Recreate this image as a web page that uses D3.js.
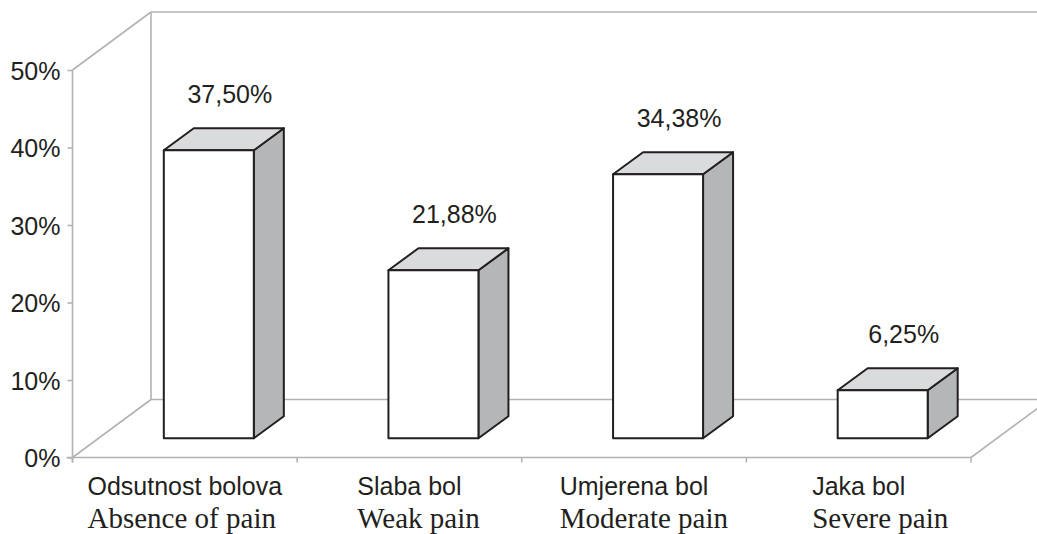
<!DOCTYPE html>
<html>
<head>
<meta charset="utf-8">
<script src="https://cdn.jsdelivr.net/npm/d3@7"></script>
<style>
  body { margin: 0; background: #fff; }
</style>
</head>
<body>
<div id="chart"></div>
<script>
const categories = ["Odsutnost bolova", "Slaba bol", "Umjerena bol", "Jaka bol"];
const categoriesEn = ["Absence of pain", "Weak pain", "Moderate pain", "Severe pain"];
const values = [0.375, 0.2188, 0.3438, 0.0625];
const valueLabels = ["37,50%", "21,88%", "34,38%", "6,25%"];
const yTicks = [0, 0.1, 0.2, 0.3, 0.4, 0.5];

const width = 1037, height = 534;
const ink = "#231f20", wallGrey = "#b3b3b3";

const svg = d3.select("#chart").append("svg")
  .attr("width", width)
  .attr("height", height);

// axis / floor geometry
const x0 = 72.5, x1 = 971;
const y0 = 457.5, y1 = 70;
const depthX = 78.5, depthY = -58;

const yScale = d3.scaleLinear().domain([0, 0.5]).range([y0, y1]);
// bars stand a third of the way into the floor, slightly flatter projection
const barScale = d3.scaleLinear().domain([0, 0.5]).range([438.3, 438.3 - 384]);
const xScale = d3.scaleBand().domain(categories).range([x0, x1]);

// walls
const walls = svg.append("g")
  .attr("fill", "none")
  .attr("stroke", wallGrey)
  .attr("stroke-width", 1.6);

walls.append("line").attr("x1", x0).attr("y1", y1).attr("x2", x0 + depthX).attr("y2", y1 + depthY);
walls.append("line").attr("x1", x0 + depthX).attr("y1", y1 + depthY).attr("x2", width).attr("y2", y1 + depthY);
walls.append("line").attr("x1", x0 + depthX).attr("y1", y1 + depthY).attr("x2", x0 + depthX).attr("y2", y0 + depthY);
walls.append("line").attr("x1", x0).attr("y1", y0).attr("x2", x0 + depthX).attr("y2", y0 + depthY);
walls.append("line").attr("x1", x0 + depthX).attr("y1", y0 + depthY).attr("x2", width).attr("y2", y0 + depthY);
walls.append("line").attr("x1", x1).attr("y1", y0).attr("x2", x1 + depthX).attr("y2", y0 + depthY);

// y axis
const yAxis = svg.append("g")
  .attr("transform", `translate(${x0},0)`)
  .call(d3.axisLeft(yScale).tickValues(yTicks).tickFormat(d => Math.round(d * 100) + "%").tickSize(5).tickPadding(7));
yAxis.select(".domain").attr("stroke", wallGrey).attr("stroke-width", 1.6)
  .attr("d", `M0,${y1}V${y0 + 5}`);
yAxis.selectAll(".tick line").attr("stroke", wallGrey).attr("stroke-width", 1.6);
yAxis.selectAll(".tick text")
  .attr("fill", ink)
  .attr("font-family", "Liberation Sans, Arial, sans-serif")
  .attr("font-size", 25)
  .attr("dy", "0.36em");

// x axis (floor front edge)
const xAxis = svg.append("g")
  .attr("transform", `translate(0,${y0})`);
xAxis.append("line")
  .attr("x1", x0 - 6).attr("x2", x1)
  .attr("stroke", wallGrey).attr("stroke-width", 1.6);
xAxis.selectAll(".xtick")
  .data(categories.concat(["end"]))
  .join("line")
  .attr("class", "xtick")
  .attr("x1", (d, i) => i < categories.length ? xScale(d) : x1)
  .attr("x2", (d, i) => i < categories.length ? xScale(d) : x1)
  .attr("y1", 0).attr("y2", 5)
  .attr("stroke", wallGrey).attr("stroke-width", 1.6);

// bars
const barW = 90, sideX = 30, sideY = -22;
const bars = svg.append("g")
  .selectAll("g")
  .data(values)
  .join("g");

const cx = i => xScale(categories[i]) + xScale.bandwidth() / 2 + 24;

bars.append("polygon")
  .attr("points", (d, i) => {
    const r = cx(i) + barW / 2, yb = barScale(0), yt = barScale(d);
    return [[r, yb], [r + sideX, yb + sideY], [r + sideX, yt + sideY], [r, yt]].join(" ");
  })
  .attr("fill", "#b5b6b8")
  .attr("stroke", ink).attr("stroke-width", 2).attr("stroke-linejoin", "round");

bars.append("polygon")
  .attr("points", (d, i) => {
    const l = cx(i) - barW / 2, r = cx(i) + barW / 2, yt = barScale(d);
    return [[l, yt], [l + sideX, yt + sideY], [r + sideX, yt + sideY], [r, yt]].join(" ");
  })
  .attr("fill", "#dadbdc")
  .attr("stroke", ink).attr("stroke-width", 2).attr("stroke-linejoin", "round");

bars.append("rect")
  .attr("x", (d, i) => cx(i) - barW / 2)
  .attr("y", d => barScale(d))
  .attr("width", barW)
  .attr("height", d => barScale(0) - barScale(d))
  .attr("fill", "#fff")
  .attr("stroke", ink).attr("stroke-width", 2).attr("stroke-linejoin", "round");

bars.append("text")
  .attr("x", (d, i) => cx(i) + 21)
  .attr("y", d => barScale(d) + sideY - 25)
  .attr("text-anchor", "middle")
  .attr("fill", ink)
  .attr("font-family", "Liberation Sans, Arial, sans-serif")
  .attr("font-size", 25)
  .text((d, i) => valueLabels[i]);

// category labels: local name centred, English line aligned to its start
const labels = svg.append("g")
  .selectAll("g")
  .data(categories)
  .join("g");

labels.each(function(d, i) {
  const g = d3.select(this);
  const top = g.append("text")
    .attr("x", xScale(d) + xScale.bandwidth() / 2)
    .attr("y", 495)
    .attr("text-anchor", "middle")
    .attr("fill", ink)
    .attr("font-family", "Liberation Sans, Arial, sans-serif")
    .attr("font-size", 25)
    .text(d);
  const start = xScale(d) + xScale.bandwidth() / 2 - top.node().getComputedTextLength() / 2;
  g.append("text")
    .attr("x", start)
    .attr("y", 528)
    .attr("fill", ink)
    .attr("font-family", "Liberation Serif, Times New Roman, serif")
    .attr("font-size", 29)
    .text(categoriesEn[i]);
});
</script>
</body>
</html>
